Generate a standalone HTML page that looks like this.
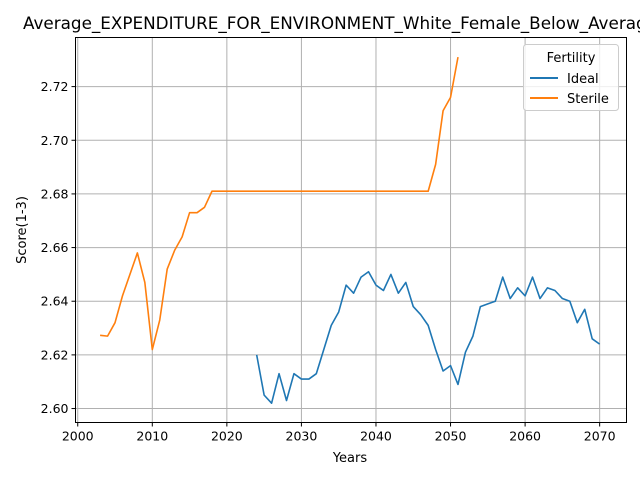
<!DOCTYPE html>
<html><head><meta charset="utf-8"><style>
body{margin:0;background:#fff;overflow:hidden;}
svg{display:block;font-family:"DejaVu Sans","Liberation Sans",sans-serif;}
</style></head><body>
<svg id="chart" width="640" height="480" viewBox="0 0 640 480" xmlns="http://www.w3.org/2000/svg">
<text x="23" y="29" font-size="16.8">Average_EXPENDITURE_FOR_ENVIRONMENT_White_Female_Below_Average</text>
<g id="grid"></g>
<g id="series"></g>
<rect x="75.5" y="37.5" width="551" height="385" fill="none" stroke="#000" stroke-width="1"/>
<g id="ticks"></g>
<text x="350" y="462" font-size="13" text-anchor="middle">Years</text>
<text transform="translate(26,230) rotate(-90)" font-size="13" text-anchor="middle">Score(1-3)</text>
<g>
<rect x="523.5" y="44.5" width="95" height="66" rx="3" fill="#fff" fill-opacity="0.8" stroke="#ccc"/>
<text x="571" y="62" font-size="13" text-anchor="middle">Fertility</text>
<line x1="530" y1="78" x2="558" y2="78" stroke="#1f77b4" stroke-width="2"/>
<text x="567" y="83" font-size="13">Ideal</text>
<line x1="530" y1="98" x2="558" y2="98" stroke="#ff7f0e" stroke-width="2"/>
<text x="567" y="103" font-size="13">Sterile</text>
</g>
</svg>
<script>
const idealYears=[2024,2025,2026,2027,2028,2029,2030,2031,2032,2033,2034,2035,2036,2037,2038,2039,2040,2041,2042,2043,2044,2045,2046,2047,2048,2049,2050,2051,2052,2053,2054,2055,2056,2057,2058,2059,2060,2061,2062,2063,2064,2065,2066,2067,2068,2069,2070];
const idealValues=[2.620,2.605,2.602,2.613,2.603,2.613,2.611,2.611,2.613,2.622,2.631,2.636,2.646,2.643,2.649,2.651,2.646,2.644,2.650,2.643,2.647,2.638,2.635,2.631,2.622,2.614,2.616,2.609,2.621,2.627,2.638,2.639,2.640,2.649,2.641,2.645,2.642,2.649,2.641,2.645,2.644,2.641,2.640,2.632,2.637,2.626,2.624];
const sterileYears=[2003,2004,2005,2006,2007,2008,2009,2010,2011,2012,2013,2014,2015,2016,2017,2018,2047,2048,2049,2050,2051];
const sterileValues=[2.6273,2.627,2.632,2.642,2.650,2.658,2.647,2.622,2.633,2.652,2.659,2.664,2.673,2.673,2.675,2.681,2.681,2.691,2.711,2.716,2.731];
const xTicks=[2000,2010,2020,2030,2040,2050,2060,2070];
const yTicks=[2.60,2.62,2.64,2.66,2.68,2.70,2.72];
const L=75.5,R=626.5,T=37.5,B=422.5;
const xMin=1999.7,xMax=2073.6,yMin=2.5948,yMax=2.7383;
const xs=v=>L+(v-xMin)/(xMax-xMin)*(R-L);
const ys=v=>B-(v-yMin)/(yMax-yMin)*(B-T);
const NS="http://www.w3.org/2000/svg";
const grid=document.getElementById('grid'),ticks=document.getElementById('ticks'),series=document.getElementById('series');
function mk(tag,attrs,parent){const e=document.createElementNS(NS,tag);for(const k in attrs)e.setAttribute(k,attrs[k]);parent.appendChild(e);return e;}
xTicks.forEach(t=>{const x=xs(t);
const g=mk('line',{x1:x,x2:x,y1:T,y2:B,stroke:'#b0b0b0','stroke-width':1},grid);


mk('line',{x1:x,x2:x,y1:B,y2:B+4,stroke:'#000'},ticks);
const tx=mk('text',{x:x,y:B+18,'font-size':12.5,'text-anchor':'middle'},ticks);tx.textContent=t;

});
yTicks.forEach(t=>{const y=ys(t);
const g=mk('line',{x1:L,x2:R,y1:y,y2:y,stroke:'#b0b0b0','stroke-width':1},grid);


mk('line',{x1:L-4,x2:L,y1:y,y2:y,stroke:'#000'},ticks);
const tx=mk('text',{x:L-7,y:y+4.5,'font-size':12.5,'text-anchor':'end'},ticks);tx.textContent=t.toFixed(2);

});
function line(yrs,vals,color,name){const d=yrs.map((y,i)=>(i?'L':'M')+xs(y).toFixed(2)+','+ys(vals[i]).toFixed(2)).join('');
const p=mk('path',{d:d,fill:'none',stroke:color,'stroke-width':1.6,'stroke-linejoin':'round'},series);

}
line(idealYears,idealValues,'#1f77b4','ideal-line');
line(sterileYears,sterileValues,'#ff7f0e','sterile-line');
</script>
</body></html>
